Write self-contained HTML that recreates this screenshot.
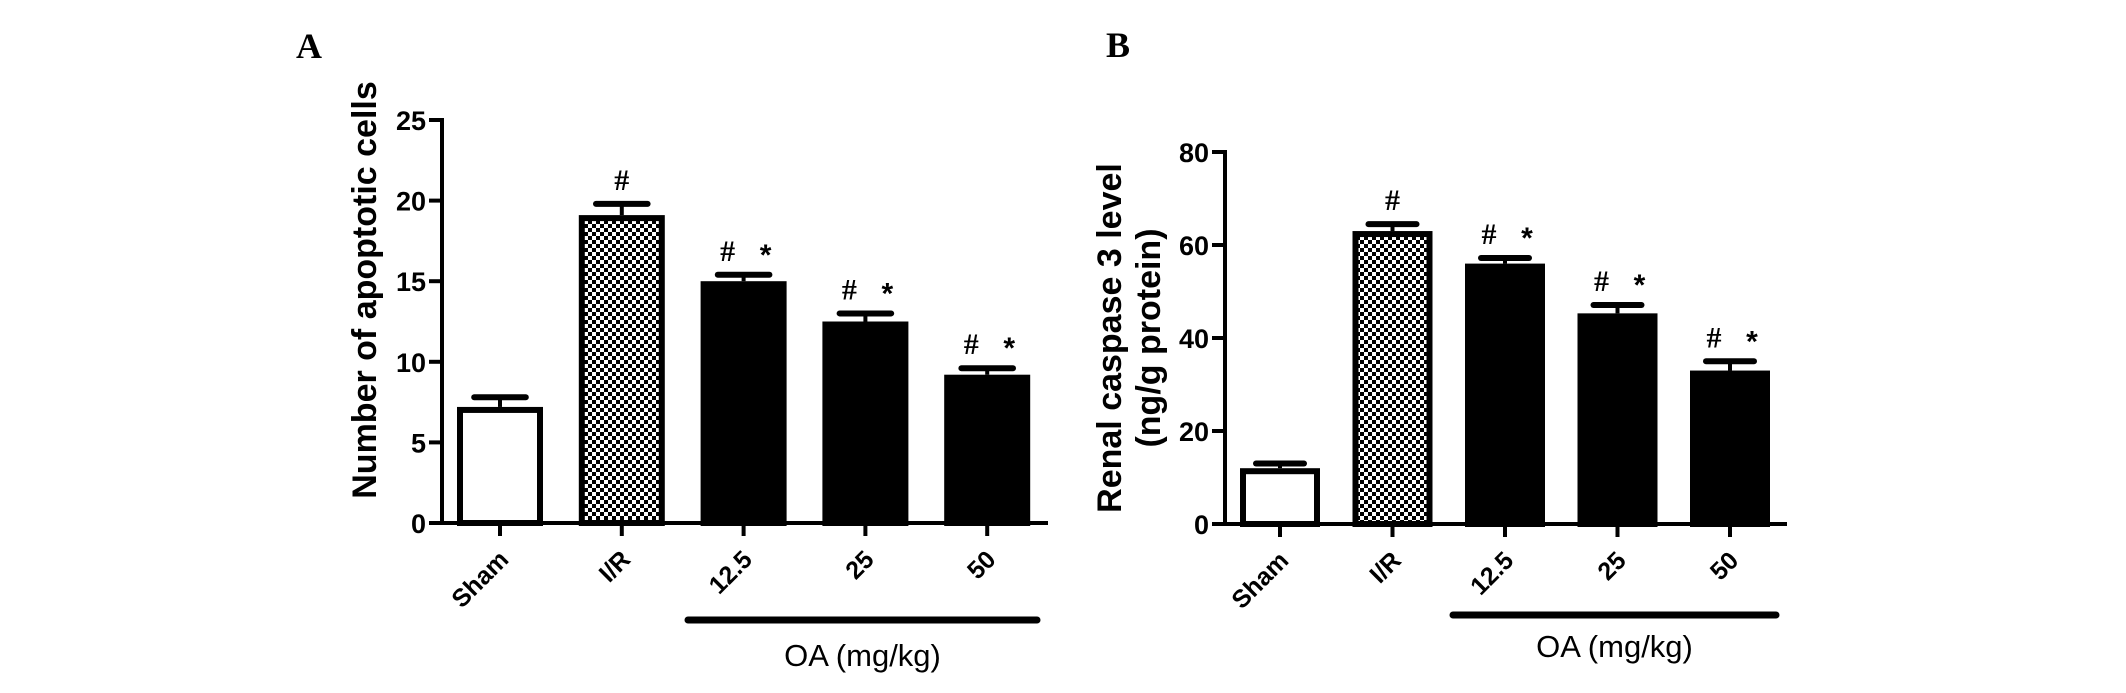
<!DOCTYPE html>
<html><head><meta charset="utf-8"><style>
html,body{margin:0;padding:0;background:#fff;}
svg{display:block;font-family:"Liberation Sans",Arial,sans-serif;}
</style></head><body>
<svg id="fig" width="2126" height="693" viewBox="0 0 2126 693">
<defs>
<pattern id="chk" width="8" height="8" patternUnits="userSpaceOnUse">
<rect width="8" height="8" fill="#fff"/><rect width="4" height="4" fill="#000"/><rect x="4" y="4" width="4" height="4" fill="#000"/>
</pattern>
</defs>
<g id="panelA"></g>
<g id="panelB"></g>
</svg>
<script>
const categories = ["Sham","I/R","12.5","25","50"];
const fills = ["white","check","black","black","black"];
const aValues = [7.2, 19.1, 15.0, 12.5, 9.2];
const aErrors = [0.6, 0.7, 0.4, 0.5, 0.4];
const aTicks = [0,5,10,15,20,25];
const aMarks = ["", "#", "# *", "# *", "# *"];
const bValues = [12.0, 63.0, 56.0, 45.3, 33.0];
const bErrors = [1.0, 1.5, 1.2, 1.8, 2.0];
const bTicks = [0,20,40,60,80];
const bMarks = ["", "#", "# *", "# *", "# *"];

const NS="http://www.w3.org/2000/svg";
function mk(parent,tag,attrs,text){const e=document.createElementNS(NS,tag);for(const k in attrs)e.setAttribute(k,attrs[k]);if(text!==undefined)e.textContent=text;parent.appendChild(e);return e;}

function drawPanel(g,cfg){
  const y=v=>cfg.y0-(v-cfg.ymin)*(cfg.y0-cfg.yTop)/(cfg.ymax-cfg.ymin);
  const x=i=>cfg.x0+i*cfg.step;
  const pl=mk(g,'text',{x:cfg.letterX,y:cfg.letterY,'font-family':'Liberation Serif,serif','font-weight':'bold','font-size':36},cfg.letter);
  
  
  cfg.values.forEach((v,i)=>{
    const cx=x(i), top=y(v), bw=cfg.bw;
    const f=fills[i]==='white'?'#fff':fills[i]==='check'?'url(#chk)':'#000';
    const r=mk(g,'rect',{x:cx-bw/2+3,y:top+3,width:bw-6,height:cfg.y0-top-3,fill:f,stroke:'#000','stroke-width':6});
    
    
    const et=y(v+cfg.errors[i]);
    const eb=mk(g,'line',{x1:cx,x2:cx,y1:top,y2:et,stroke:'#000','stroke-width':4});
    
    
    const ec=mk(g,'line',{x1:cx-bw*0.3,x2:cx+bw*0.3,y1:et,y2:et,stroke:'#000','stroke-width':6,'stroke-linecap':'round'});
    
    
    if(cfg.marks[i]){
      const parts=cfg.marks[i].split(' ');
      const h=mk(g,'text',{x:parts.length>1?cx-16:cx,y:et-14,'text-anchor':'middle','font-family':'Liberation Serif,serif','font-weight':'bold','font-size':30},'#');
      
      
      if(parts.length>1){
        const s=mk(g,'text',{x:cx+22,y:et-10,'text-anchor':'middle','font-weight':'bold','font-size':30},'*');
        
        
      }
    }
    const tk=mk(g,'line',{x1:cx,x2:cx,y1:cfg.y0,y2:cfg.y0+13,stroke:'#000','stroke-width':4});
    
    
    const lx=cx+10, ly=cfg.y0+38;
    const lb=mk(g,'text',{x:lx,y:ly,'text-anchor':'end','font-weight':'bold','font-size':cfg.tickFont,transform:`rotate(-45 ${lx} ${ly})`},categories[i]);
    
    
  });
  const ya=mk(g,'line',{x1:cfg.axX,x2:cfg.axX,y1:cfg.yTop-2,y2:cfg.y0+2,stroke:'#000','stroke-width':4});
  
  
  const xa=mk(g,'line',{x1:cfg.axX-13,x2:cfg.xEnd,y1:cfg.y0,y2:cfg.y0,stroke:'#000','stroke-width':4});
  
  
  cfg.ticks.forEach(t=>{
    const ty=y(t);
    const l=mk(g,'line',{x1:cfg.axX-13,x2:cfg.axX,y1:ty,y2:ty,stroke:'#000','stroke-width':4});
    
    
    const tl=mk(g,'text',{x:cfg.axX-16,y:ty+10,'text-anchor':'end','font-weight':'bold','font-size':cfg.yTickFont},String(t));
    
    
  });
  cfg.yTitle.forEach((line,k)=>{
    const tx=cfg.yTitleX+k*cfg.yTitleGap, ty=cfg.yTitleY;
    const t=mk(g,'text',{x:tx,y:ty,'text-anchor':'middle','font-weight':'bold','font-size':cfg.yTitleFont,transform:`rotate(-90 ${tx} ${ty})`},line);
    
    
  });
  const ob=mk(g,'line',{x1:cfg.oaX1,x2:cfg.oaX2,y1:cfg.oaY,y2:cfg.oaY,stroke:'#000','stroke-width':7,'stroke-linecap':'round'});
  
  
  const ot=mk(g,'text',{x:(cfg.oaX1+cfg.oaX2)/2,y:cfg.oaTextY,'text-anchor':'middle','font-size':31},'OA (mg/kg)');
  
  
}

drawPanel(document.getElementById('panelA'),{
  letter:'A',letterX:296,letterY:58,
  values:aValues,errors:aErrors,ticks:aTicks,marks:aMarks,
  ymin:0,ymax:25,y0:523,yTop:120,axX:442,xEnd:1048,
  x0:500,step:121.8,bw:86,tickFont:25,yTickFont:27,
  yTitle:['Number of apoptotic cells'],yTitleX:376,yTitleGap:0,yTitleY:290,yTitleFont:34,
  oaX1:688,oaX2:1037,oaY:620,oaTextY:666
});
drawPanel(document.getElementById('panelB'),{
  letter:'B',letterX:1106,letterY:57,
  values:bValues,errors:bErrors,ticks:bTicks,marks:bMarks,
  ymin:0,ymax:80,y0:524,yTop:152,axX:1225,xEnd:1787,
  x0:1280,step:112.5,bw:80,tickFont:25,yTickFont:27,
  yTitle:['Renal caspase 3 level','(ng/g protein)'],yTitleX:1121,yTitleGap:39,yTitleY:338,yTitleFont:34,
  oaX1:1453,oaX2:1776,oaY:615,oaTextY:657
});
</script>
</body></html>
